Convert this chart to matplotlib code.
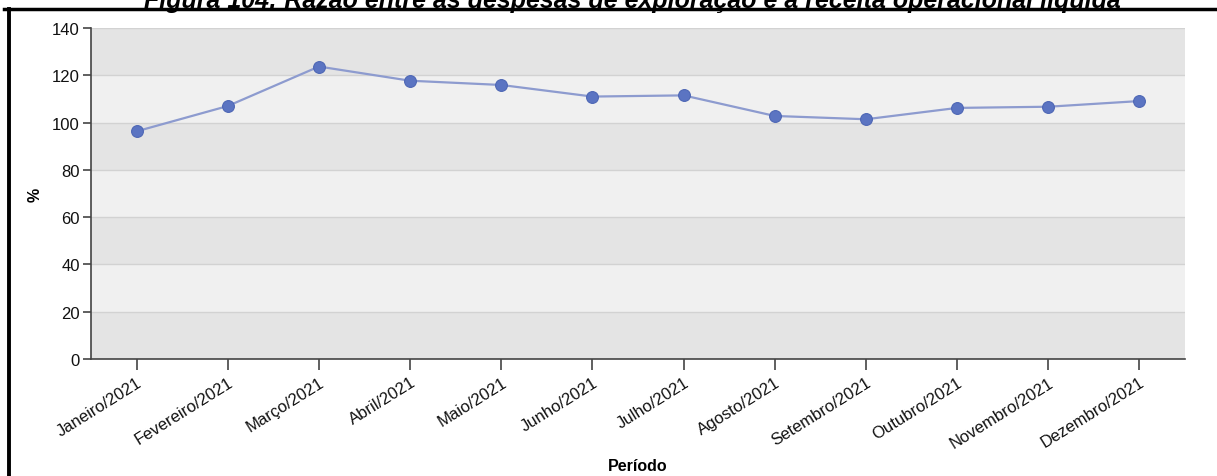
import matplotlib
matplotlib.use("Agg")
import matplotlib.pyplot as plt
from matplotlib.lines import Line2D

plt.rcParams['font.family'] = ['Liberation Sans', 'DejaVu Sans']

periods = ["Janeiro/2021", "Fevereiro/2021", "Março/2021", "Abril/2021",
           "Maio/2021", "Junho/2021", "Julho/2021", "Agosto/2021",
           "Setembro/2021", "Outubro/2021", "Novembro/2021", "Dezembro/2021"]
ratio_pct = [96.3, 107.0, 123.7, 117.7, 115.9, 111.0, 111.5, 102.8,
             101.4, 106.2, 106.7, 109.1]
y_ticks = [0, 20, 40, 60, 80, 100, 120, 140]

title = "Figura 104: Razão entre as despesas de exploração e a receita operacional líquida"

fig = plt.figure(figsize=(12.17, 4.77), dpi=100)
ax = fig.add_axes([0.0748, 0.2453, 0.8989, 0.6939])

# alternating horizontal bands
for i, (lo, hi) in enumerate(zip(y_ticks[:-1], y_ticks[1:])):
    ax.axhspan(lo, hi, color="#e4e4e4" if i % 2 == 0 else "#f0f0f0", zorder=0, lw=0)
for y in y_ticks[1:]:
    ax.axhline(y, color="#d2d2d2", lw=1.0, zorder=1)

x = list(range(len(periods)))
ax.plot(x, ratio_pct, color="#8d9bcf", lw=1.6, zorder=3)
ax.plot(x, ratio_pct, ls="none", marker="o", ms=8.5, color="#5b74c2",
        markeredgecolor="#4e67b5", mew=0.8, zorder=4)

ax.set_xlim(-0.5, len(periods) - 0.5)
ax.set_ylim(0, 140)
ax.set_yticks(y_ticks)
ax.set_xticks(x)
ax.set_xticklabels(periods, rotation=32, ha="right", rotation_mode="anchor")

for s in ("top", "right"):
    ax.spines[s].set_visible(False)
for s in ("left", "bottom"):
    ax.spines[s].set_color("#444444")
    ax.spines[s].set_linewidth(1.2)

ax.tick_params(axis="both", colors="#444444", labelcolor="#111111", labelsize=12)
ax.tick_params(axis="x", length=8, width=1.2, pad=3)
ax.tick_params(axis="y", length=6, width=1.2, pad=2)

ax.set_ylabel("%", fontsize=11.5, fontweight="bold", labelpad=7)
ax.set_xlabel("Período", fontsize=11.5, fontweight="bold", labelpad=6)

# frame lines of the figure panel
fig.add_artist(Line2D([0.003, 1.0], [1 - 10 / 477, 1 - 10 / 477],
                      transform=fig.transFigure, color="black", lw=2.5))
fig.add_artist(Line2D([9 / 1217, 9 / 1217], [0, 1 - 10 / 477],
                      transform=fig.transFigure, color="black", lw=2.8))

fig.text(0.52, 1 - 8 / 477, title, ha="center", va="baseline",
         fontsize=18, fontweight="bold", fontstyle="italic")

fig.savefig("out.png", dpi=100)
